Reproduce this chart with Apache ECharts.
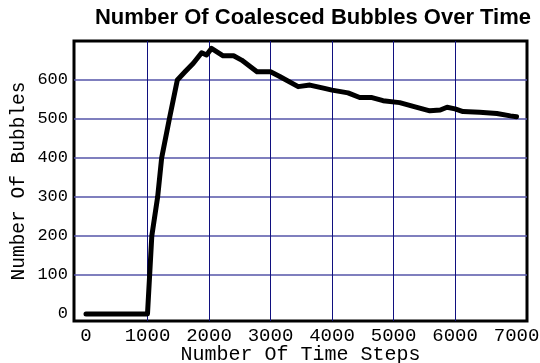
<!DOCTYPE html>
<html><head><meta charset="utf-8">
<script src="https://cdn.jsdelivr.net/npm/echarts@6/dist/echarts.min.js"></script>
<style>html,body{margin:0;padding:0;background:#fff}#c{width:540px;height:363px}</style>
</head><body><div id="c"></div>
<script>
const titleText = "Number Of Coalesced Bubbles Over Time";
const xName = "Number Of Time Steps";
const yName = "Number Of Bubbles";
const xTickLabels = [0, 1000, 2000, 3000, 4000, 5000, 6000, 7000];
const yTickLabels = [0, 100, 200, 300, 400, 500, 600];
const xGridValues = [1000, 2000, 3000, 4000, 5000, 6000];
const yGridValues = [100, 200, 300, 400, 500, 600];
const steps = [0, 1000, 1070, 1165, 1230, 1355, 1485, 1610, 1745, 1880, 1960, 2040, 2230, 2400, 2530, 2780, 3000, 3150, 3450, 3640, 3860, 4000, 4260, 4450, 4650, 4830, 5100, 5380, 5590, 5760, 5870, 6000, 6130, 6400, 6680, 6900, 7000];
const counts = [0, 0, 200, 300, 400, 500, 600, 621, 643, 670, 664, 681, 662, 662, 651, 621, 621, 609, 583, 587, 579, 574, 567, 555, 555, 547, 542, 530, 521, 523, 530, 526, 519, 517, 514, 508, 506];

const chart = echarts.init(document.getElementById('c'), null, {renderer: 'canvas'});
const mono = "'Liberation Mono','Courier New',monospace";
chart.setOption({
  animation: false,
  title: {
    text: titleText, left: 308, top: 2, textAlign: 'center',
    textStyle: {fontFamily: "'Liberation Sans',Arial,sans-serif", fontWeight: 'bold', fontSize: 22, color: '#000'}
  },
  grid: {left: 74, right: 13, top: 41, bottom: 42, show: true, borderColor: '#000', borderWidth: 3,
         backgroundColor: 'transparent', containLabel: false, outerBoundsMode: 'none'},
  xAxis: {
    type: 'value', min: -195, max: 7170,
    name: xName, nameLocation: 'middle', nameGap: 24, nameMoveOverlap: false,
    nameTextStyle: {fontFamily: mono, fontSize: 20, color: '#000'},
    axisLine: {show: false},
    axisTick: {show: false, customValues: xGridValues},
    axisLabel: {customValues: xTickLabels, formatter: v => String(v), fontFamily: mono, fontSize: 19, color: '#000', margin: 5},
    splitLine: {show: true, lineStyle: {color: '#10107f', width: 1}}
  },
  yAxis: {
    type: 'value', min: -18, max: 700,
    name: yName, nameLocation: 'middle', nameGap: 45, nameMoveOverlap: false,
    nameTextStyle: {fontFamily: mono, fontSize: 19.5, color: '#000'},
    axisLine: {show: false},
    axisTick: {show: false, customValues: yGridValues},
    axisLabel: {customValues: yTickLabels, formatter: v => String(v), fontFamily: mono, fontSize: 17, color: '#000', margin: 6},
    splitLine: {show: true, lineStyle: {color: '#5555a8', width: 1.5}}
  },
  series: [{
    type: 'line', showSymbol: false, symbol: 'none',
    data: steps.map((s, i) => [s, counts[i]]),
    lineStyle: {color: '#000', width: 5, cap: 'round', join: 'round'}
  }]
});
</script></body></html>
